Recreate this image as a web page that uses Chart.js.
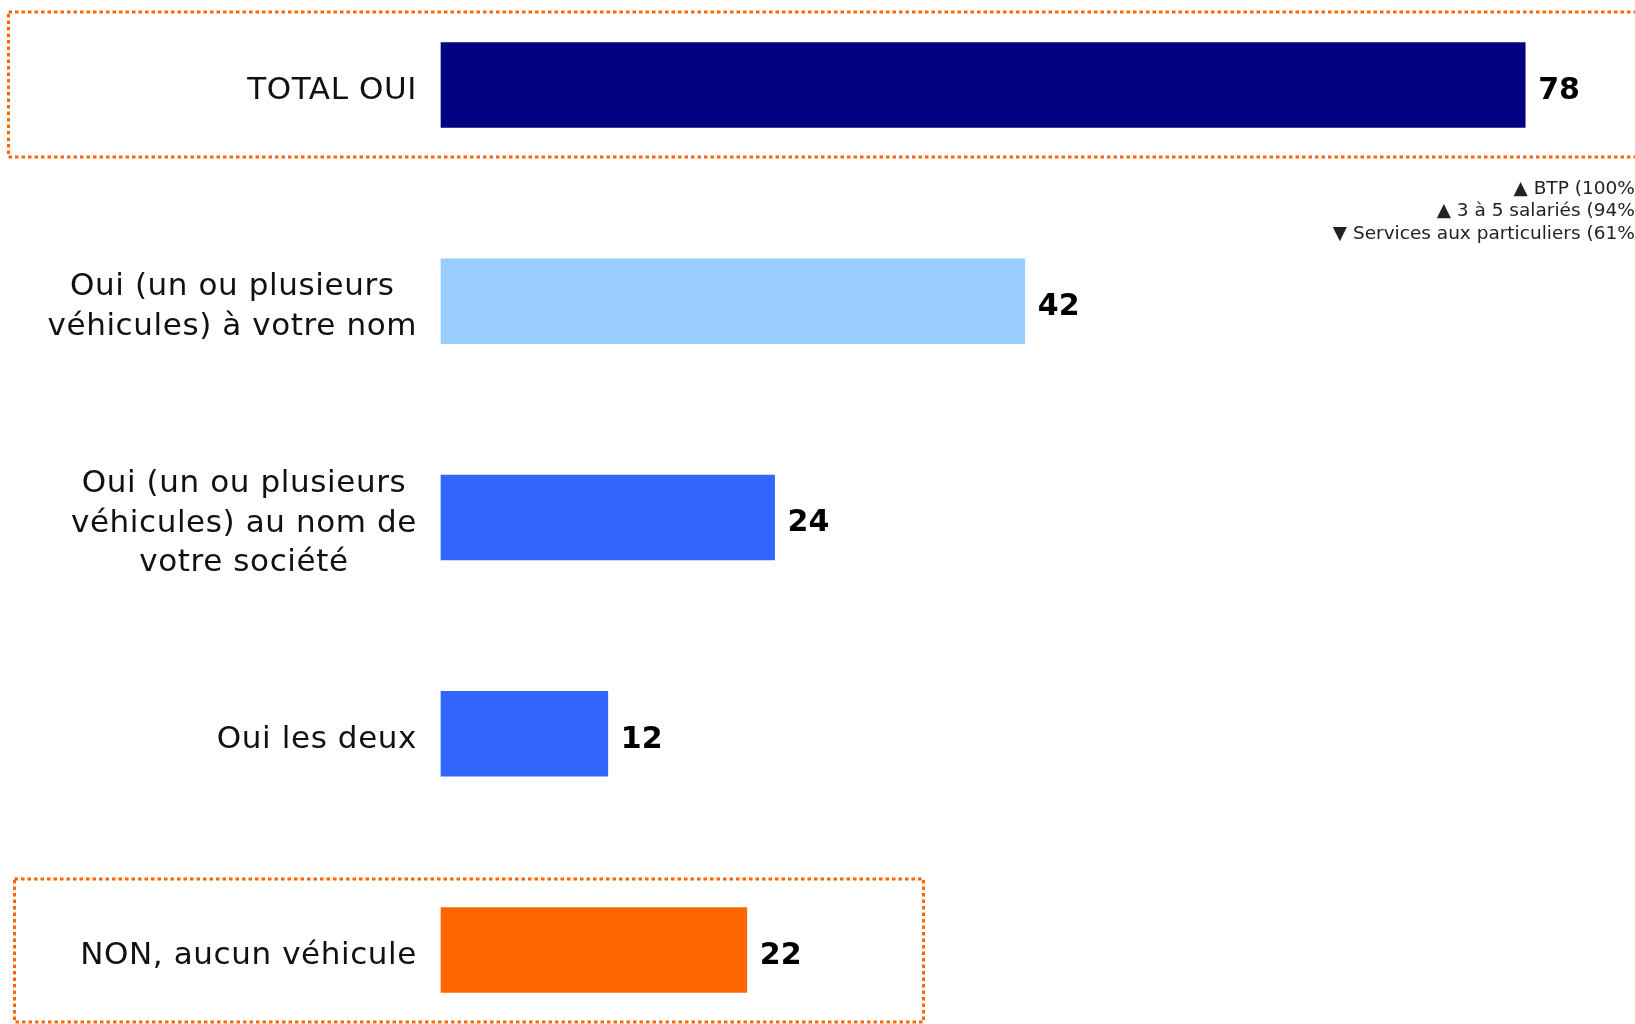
<!DOCTYPE html>
<html>
<head>
<meta charset="utf-8">
<script src="https://cdn.jsdelivr.net/npm/chart.js@4/dist/chart.umd.min.js"></script>
<style>
	body { margin: 0; background: #fff; }
	#wrap { width: 1635px; height: 1024px; position: relative; }
</style>
</head>
<body>
<div id="wrap"><canvas id="chart"></canvas></div>
<script>
// Data
// ================================================================================
let categories = [
	["TOTAL OUI"],
	["Oui (un ou plusieurs", "véhicules) à votre nom"],
	["Oui (un ou plusieurs", "véhicules) au nom de", "votre société"],
	["Oui les deux"],
	["NON, aucun véhicule"]
];
let values = [78, 42, 24, 12, 22];
let bar_colors = ['#000080', '#99CCFF', '#3366FF', '#3366FF', '#FF6600'];
let notes = ['\u25B2 BTP (100%)', '\u25B2 3 à 5 salariés (94%)', '\u25BC Services aux particuliers (61%)'];

const FONT = '"DejaVu Sans", Verdana, sans-serif';

// Plugin: labels, values, dotted boxes, notes
// ================================================================================
let decor = {
	id: 'decor',
	afterDatasetsDraw(chart) {
		let ctx = chart.ctx;
		let y = chart.scales.y;
		let meta = chart.getDatasetMeta(0);
		ctx.save();

		// category labels: block right-aligned, lines centred inside the block
		ctx.font = '31px ' + FONT;
		ctx.letterSpacing = '0.6px';
		ctx.fillStyle = '#111';
		ctx.textBaseline = 'middle';
		ctx.textAlign = 'center';
		let lh = 39.7;
		let right = chart.chartArea.left - 24;
		categories.forEach((lines, i) => {
			let w = Math.max(...lines.map(l => ctx.measureText(l).width));
			let cy = y.getPixelForValue(i) + 6;
			let y0 = cy - (lines.length - 1) * lh / 2;
			lines.forEach((l, k) => ctx.fillText(l, right - w / 2, y0 + k * lh));
		});
		ctx.letterSpacing = '0px';

		// value labels
		ctx.font = 'bold 30px ' + FONT;
		ctx.fillStyle = '#000';
		ctx.textAlign = 'left';
		meta.data.forEach((bar, i) => {
			ctx.fillText(values[i], bar.x + 13, bar.y + 6);
		});

		// notes under total
		ctx.font = '18.5px ' + FONT;
		ctx.fillStyle = '#222';
		ctx.textAlign = 'right';
		let ny = y.getPixelForValue(0) + 104;
		notes.forEach((n, k) => ctx.fillText(n, chart.width + 7, ny + k * 22.4));

		// dotted boxes
		ctx.strokeStyle = '#FF6600';
		ctx.lineWidth = 3;
		ctx.setLineDash([3.5, 3]);
		let t = y.getPixelForValue(0);
		ctx.strokeRect(8.5, t - 73, chart.width + 20, 145);
		let b = y.getPixelForValue(4);
		ctx.strokeRect(14.5, b - 71, 909, 143);

		ctx.restore();
	}
};

new Chart(document.getElementById('chart'), {
	type: 'bar',
	data: {
		labels: categories.map(c => c.join(' ')),
		datasets: [{
			data: values,
			backgroundColor: bar_colors,
			borderWidth: 0,
			barThickness: 85,
			clip: false
		}]
	},
	options: {
		indexAxis: 'y',
		responsive: true,
		maintainAspectRatio: false,
		animation: false,
		layout: { padding: { left: 441, right: 82, top: 85, bottom: 74 } },
		plugins: {
			legend: { display: false },
			tooltip: { enabled: false }
		},
		scales: {
			x: { display: false, min: 0, max: 80 },
			y: { display: false, offset: false }
		}
	},
	plugins: [decor]
});
</script>
</body>
</html>
